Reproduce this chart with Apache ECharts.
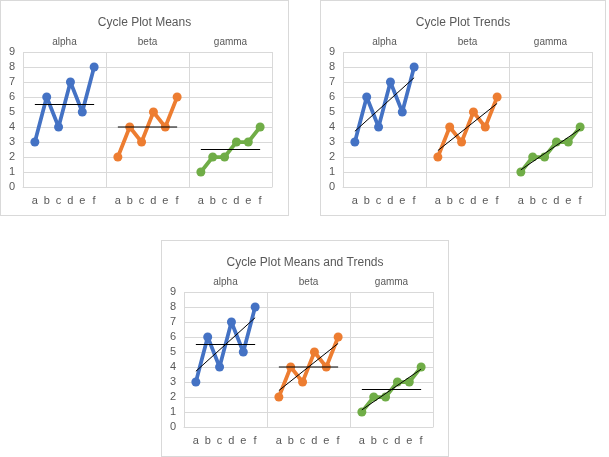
<!DOCTYPE html>
<html>
<head>
<meta charset="utf-8">
<script src="https://cdn.jsdelivr.net/npm/echarts@6/dist/echarts.min.js"></script>
<style>
  body { margin: 0; background: #fff; }
  .box { position: absolute; box-sizing: border-box; border: 1px solid #d9d9d9; background: #fff; }
</style>
</head>
<body>
<div id="c1" class="box" style="left:0px;top:0px;width:289px;height:216px"></div>
<div id="c2" class="box" style="left:320px;top:0px;width:286px;height:216px"></div>
<div id="c3" class="box" style="left:161px;top:240px;width:288px;height:217px"></div>
<script>
// data
const groups = ['alpha', 'beta', 'gamma'];
const cats = ['a', 'b', 'c', 'd', 'e', 'f'];
const alpha = [3, 6, 4, 7, 5, 8];
const beta = [2, 4, 3, 5, 4, 6];
const gamma = [1, 2, 2, 3, 3, 4];
const colors = ['#4472c4', '#ed7d31', '#70ad47'];

const values = [alpha, beta, gamma];
const slot = cats.length + 1; // one gap between the panels

function mean(arr) {
  return arr.reduce((s, v) => s + v, 0) / arr.length;
}

// least squares line over positions 1..n
function trend(arr) {
  const n = arr.length;
  const mx = (n + 1) / 2, my = mean(arr);
  let sxy = 0, sxx = 0;
  arr.forEach((v, i) => {
    sxy += (i + 1 - mx) * (v - my);
    sxx += (i + 1 - mx) * (i + 1 - mx);
  });
  const b = sxy / sxx;
  return [my + b * (1 - mx), my + b * (n - mx)];
}

const txt = '#595959';
const grid = '#d9d9d9';
const font = 'Liberation Sans, Arial, sans-serif';

function makeChart(id, title, withMeans, withTrends) {
  const chart = echarts.init(document.getElementById(id));
  const max = slot * groups.length;
  const series = [];

  values.forEach((arr, g) => {
    series.push({
      type: 'line',
      data: arr.map((v, i) => [g * slot + i + 1, v]),
      symbol: 'circle',
      symbolSize: 9,
      itemStyle: { color: colors[g] },
      lineStyle: { color: colors[g], width: 3.75 },
      animation: false
    });
  });

  values.forEach((arr, g) => {
    const x0 = g * slot + 1, x1 = g * slot + arr.length;
    if (withMeans) {
      const m = mean(arr);
      series.push({
        type: 'line', data: [[x0, m], [x1, m]], symbol: 'none', z: 5,
        lineStyle: { color: '#000', width: 1 }, animation: false
      });
    }
    if (withTrends) {
      const t = trend(arr);
      series.push({
        type: 'line', data: [[x0, t[0]], [x1, t[1]]], symbol: 'none', z: 5,
        lineStyle: { color: '#000', width: 1 }, animation: false
      });
    }
  });

  chart.setOption({
    animation: false,
    title: {
      text: title, left: 'center', top: 11,
      textStyle: { color: txt, fontSize: 12, fontWeight: 'normal', fontFamily: font }
    },
    grid: { left: 22, top: 51, width: 249, height: 135 },
    xAxis: [
      {
        type: 'value', min: 0, max: max, interval: 1, position: 'bottom',
        axisLine: { show: true, lineStyle: { color: grid } },
        axisTick: { show: false },
        splitLine: { show: false },
        axisLabel: {
          color: txt, fontSize: 11, fontFamily: font, margin: 8,
          showMinLabel: true, showMaxLabel: true,
          formatter: v => (v % slot === 0 ? '' : cats[v % slot - 1])
        }
      },
      {
        type: 'value', min: 0, max: max, interval: slot / 2, position: 'top',
        axisLine: { show: false }, axisTick: { show: false },
        splitLine: { show: false },
        axisLabel: {
          color: txt, fontSize: 10, fontFamily: font, margin: 5,
          formatter: v => (v % slot === slot / 2 ? groups[Math.floor(v / slot)] : '')
        }
      },
      {
        type: 'value', min: 0, max: max, interval: slot, position: 'bottom',
        axisLine: { show: false }, axisTick: { show: false },
        axisLabel: { show: false },
        splitLine: { show: true, showMinLine: true, showMaxLine: true, lineStyle: { color: grid, width: 1 } }
      }
    ],
    yAxis: {
      type: 'value', min: 0, max: 9, interval: 1,
      axisLine: { show: false }, axisTick: { show: false },
      splitLine: { show: true, lineStyle: { color: grid, width: 1 } },
      axisLabel: { color: txt, fontSize: 11, fontFamily: font, margin: 8 }
    },
    series: series
  });
}

makeChart('c1', 'Cycle Plot Means', true, false);
makeChart('c2', 'Cycle Plot Trends', false, true);
makeChart('c3', 'Cycle Plot Means and Trends', true, true);
</script>
</body>
</html>
